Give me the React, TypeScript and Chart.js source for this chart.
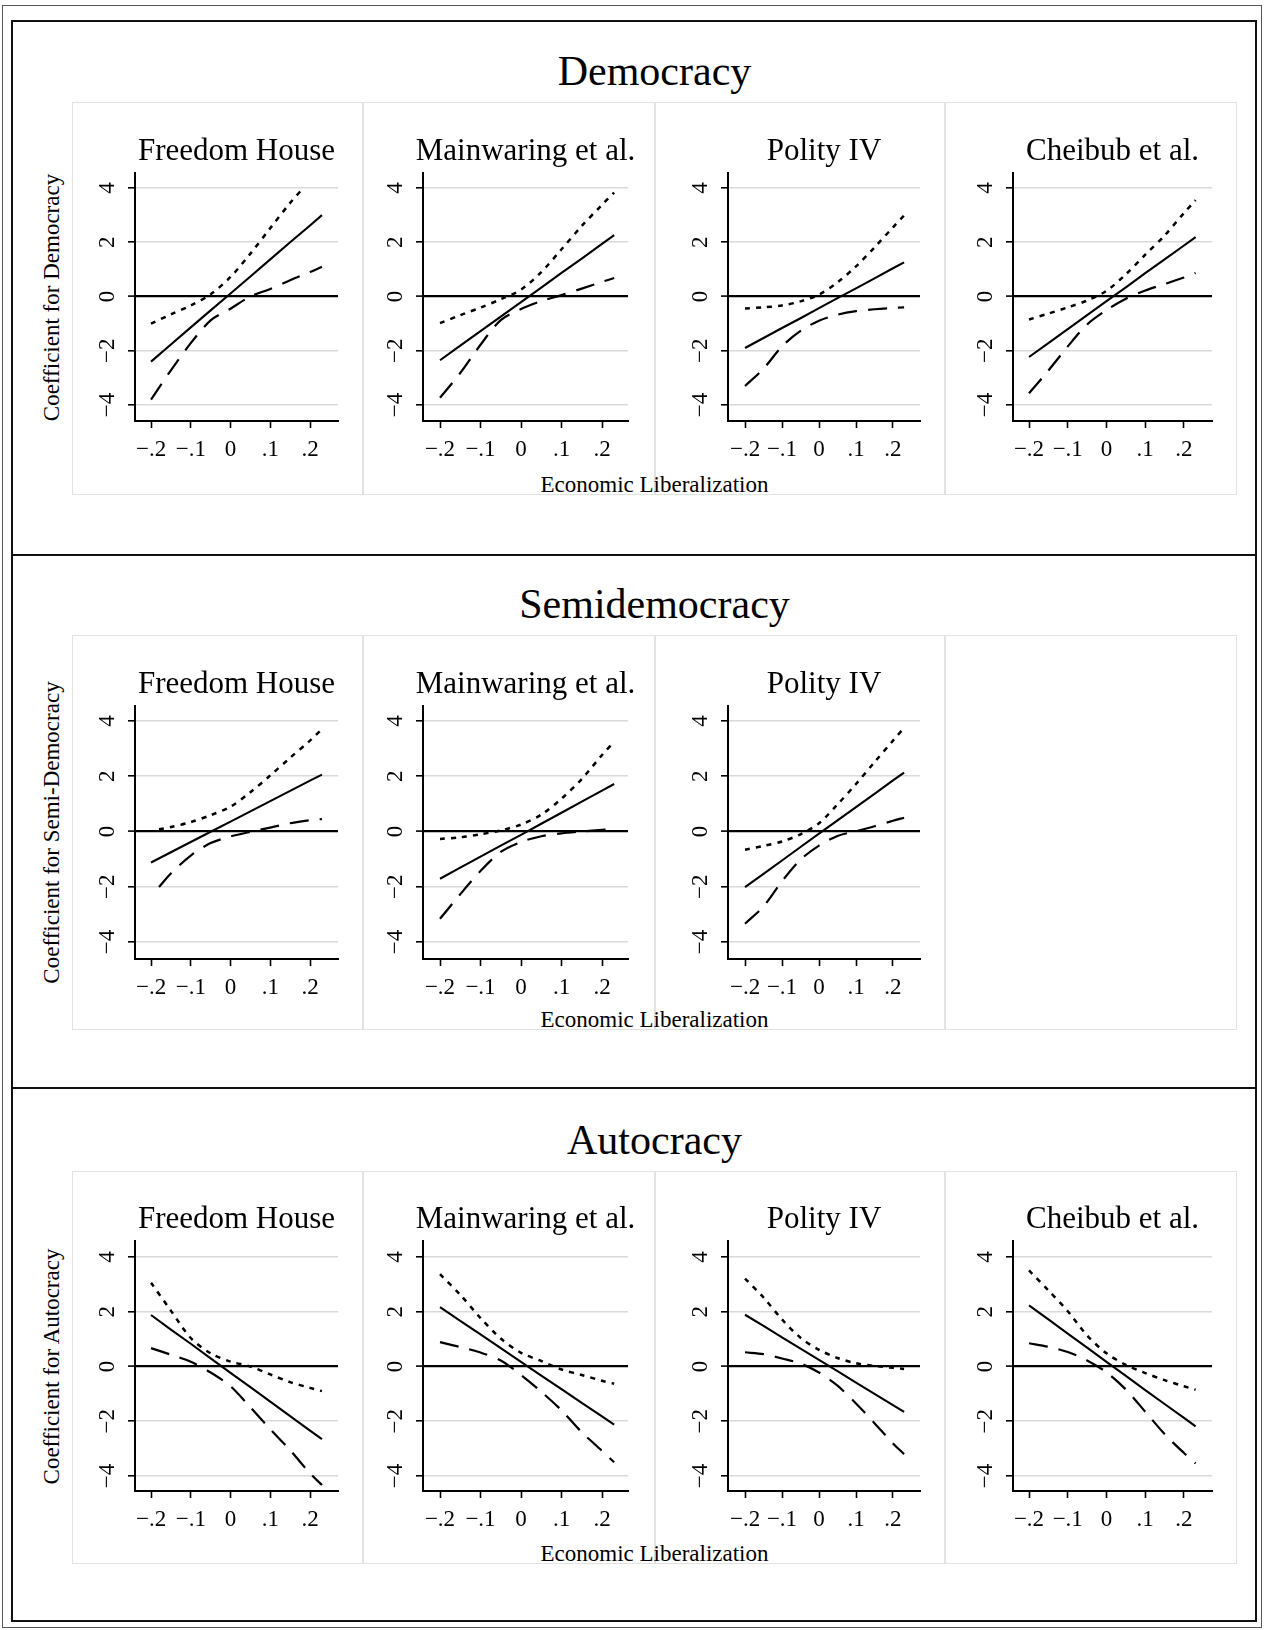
import React, { useEffect, useRef } from 'react';
import { Chart, registerables } from 'chart.js';

Chart.register(...registerables);

// ---------------- data ----------------
const X_GRID = [-0.2, -0.15, -0.1, -0.05, 0, 0.05, 0.1, 0.15, 0.2, 0.23];
const X_TICKS = [-0.2, -0.1, 0, 0.1, 0.2];
const X_TICK_LABELS = ['\u2212.2', '\u2212.1', '0', '.1', '.2'];
const Y_TICKS = [-4, -2, 0, 2, 4];
const Y_TICK_LABELS = ['\u22124', '\u22122', '0', '2', '4'];

const SECTION_TITLES = ['Democracy', 'Semidemocracy', 'Autocracy'];
const Y_TITLES = ['Coefficient for Democracy', 'Coefficient for Semi-Democracy', 'Coefficient for Autocracy'];
const X_TITLE = 'Economic Liberalization';
const MEASURES = ['Freedom House', 'Mainwaring et al.', 'Polity IV', 'Cheibub et al.'];

// Democracy
const DEM_FH_EST = [-2.4, -1.77, -1.14, -0.51, 0.11, 0.74, 1.37, 2.0, 2.62, 3.0];
const DEM_FH_UPPER_X = [-0.2, -0.15, -0.1, -0.05, 0, 0.05, 0.1, 0.15, 0.185];
const DEM_FH_UPPER = [-1.0, -0.66, -0.33, 0.08, 0.72, 1.58, 2.52, 3.45, 4.03];
const DEM_FH_LOWER = [-3.8, -2.72, -1.72, -0.88, -0.45, 0.0, 0.28, 0.6, 0.9, 1.1];

const DEM_MW_EST = [-2.35, -1.81, -1.28, -0.74, -0.21, 0.33, 0.87, 1.4, 1.94, 2.26];
const DEM_MW_UPPER = [-0.98, -0.69, -0.41, -0.1, 0.25, 0.9, 1.74, 2.6, 3.38, 3.83];
const DEM_MW_LOWER = [-3.73, -2.82, -1.78, -0.87, -0.46, -0.17, 0.05, 0.29, 0.54, 0.68];

const DEM_PO_EST = [-1.9, -1.53, -1.16, -0.8, -0.43, -0.06, 0.3, 0.67, 1.04, 1.26];
const DEM_PO_UPPER = [-0.44, -0.4, -0.33, -0.18, 0.07, 0.52, 1.11, 1.81, 2.55, 2.99];
const DEM_PO_LOWER = [-3.3, -2.66, -1.84, -1.27, -0.89, -0.67, -0.54, -0.47, -0.42, -0.4];

const DEM_CH_EST = [-2.23, -1.72, -1.2, -0.69, -0.17, 0.34, 0.86, 1.37, 1.88, 2.19];
const DEM_CH_UPPER = [-0.85, -0.63, -0.4, -0.15, 0.21, 0.82, 1.54, 2.25, 3.08, 3.55];
const DEM_CH_LOWER = [-3.57, -2.73, -1.84, -1.03, -0.5, -0.08, 0.22, 0.46, 0.7, 0.87];

// Semidemocracy
const SEMI_FH_EST = [-1.12, -0.75, -0.38, -0.01, 0.36, 0.73, 1.1, 1.47, 1.84, 2.06];
const SEMI_FH_CI_X = [-0.18, -0.15, -0.1, -0.05, 0, 0.05, 0.1, 0.15, 0.2, 0.23];
const SEMI_FH_UPPER = [0.08, 0.16, 0.34, 0.59, 0.9, 1.42, 2.03, 2.67, 3.29, 3.71];
const SEMI_FH_LOWER = [-2.01, -1.52, -0.87, -0.42, -0.18, -0.01, 0.14, 0.3, 0.41, 0.45];

const SEMI_MW_EST = [-1.71, -1.31, -0.91, -0.51, -0.12, 0.28, 0.68, 1.08, 1.48, 1.72];
const SEMI_MW_UPPER = [-0.27, -0.21, -0.1, 0.04, 0.25, 0.61, 1.19, 1.9, 2.77, 3.25];
const SEMI_MW_LOWER = [-3.16, -2.27, -1.43, -0.74, -0.38, -0.17, -0.07, 0.0, 0.06, 0.1];

const SEMI_PO_EST = [-2.01, -1.53, -1.05, -0.56, -0.08, 0.4, 0.88, 1.36, 1.85, 2.13];
const SEMI_PO_UPPER = [-0.66, -0.52, -0.36, -0.1, 0.3, 0.98, 1.72, 2.51, 3.29, 3.75];
const SEMI_PO_LOWER = [-3.34, -2.71, -1.8, -1.02, -0.51, -0.16, 0.01, 0.19, 0.39, 0.5];

// Autocracy
const AUTO_FH_EST = [1.88, 1.35, 0.83, 0.3, -0.23, -0.75, -1.28, -1.81, -2.34, -2.65];
const AUTO_FH_UPPER = [3.06, 2.04, 1.04, 0.48, 0.18, 0.0, -0.29, -0.57, -0.78, -0.9];
const AUTO_FH_LOWER = [0.67, 0.43, 0.17, -0.22, -0.72, -1.49, -2.29, -3.06, -3.9, -4.33];

const AUTO_MW_EST = [2.17, 1.67, 1.17, 0.67, 0.17, -0.33, -0.83, -1.33, -1.82, -2.12];
const AUTO_MW_UPPER = [3.37, 2.62, 1.77, 1.02, 0.5, 0.2, -0.11, -0.31, -0.52, -0.63];
const AUTO_MW_LOWER = [0.89, 0.71, 0.51, 0.22, -0.31, -0.92, -1.6, -2.4, -3.08, -3.5];

const AUTO_PO_EST = [1.89, 1.48, 1.06, 0.65, 0.24, -0.17, -0.59, -1.0, -1.41, -1.66];
const AUTO_PO_UPPER = [3.21, 2.52, 1.72, 1.05, 0.61, 0.31, 0.12, 0.02, -0.05, -0.09];
const AUTO_PO_LOWER = [0.52, 0.45, 0.29, 0.11, -0.22, -0.7, -1.35, -2.07, -2.81, -3.2];

const AUTO_CH_EST = [2.23, 1.72, 1.2, 0.69, 0.17, -0.34, -0.86, -1.37, -1.88, -2.19];
const AUTO_CH_UPPER = [3.51, 2.78, 2.02, 1.13, 0.48, 0.06, -0.24, -0.5, -0.72, -0.85];
const AUTO_CH_LOWER = [0.85, 0.72, 0.53, 0.22, -0.21, -0.84, -1.65, -2.47, -3.16, -3.54];

type PanelData = {
  name: string;
  est: number[];
  upper: number[];
  upperX: number[];
  lower: number[];
  lowerX: number[];
};

const SECTIONS: { panels: (PanelData | null)[] }[] = [
  {
    panels: [
      { name: MEASURES[0], est: DEM_FH_EST, upper: DEM_FH_UPPER, upperX: DEM_FH_UPPER_X, lower: DEM_FH_LOWER, lowerX: X_GRID },
      { name: MEASURES[1], est: DEM_MW_EST, upper: DEM_MW_UPPER, upperX: X_GRID, lower: DEM_MW_LOWER, lowerX: X_GRID },
      { name: MEASURES[2], est: DEM_PO_EST, upper: DEM_PO_UPPER, upperX: X_GRID, lower: DEM_PO_LOWER, lowerX: X_GRID },
      { name: MEASURES[3], est: DEM_CH_EST, upper: DEM_CH_UPPER, upperX: X_GRID, lower: DEM_CH_LOWER, lowerX: X_GRID },
    ],
  },
  {
    panels: [
      { name: MEASURES[0], est: SEMI_FH_EST, upper: SEMI_FH_UPPER, upperX: SEMI_FH_CI_X, lower: SEMI_FH_LOWER, lowerX: SEMI_FH_CI_X },
      { name: MEASURES[1], est: SEMI_MW_EST, upper: SEMI_MW_UPPER, upperX: X_GRID, lower: SEMI_MW_LOWER, lowerX: X_GRID },
      { name: MEASURES[2], est: SEMI_PO_EST, upper: SEMI_PO_UPPER, upperX: X_GRID, lower: SEMI_PO_LOWER, lowerX: X_GRID },
      null,
    ],
  },
  {
    panels: [
      { name: MEASURES[0], est: AUTO_FH_EST, upper: AUTO_FH_UPPER, upperX: X_GRID, lower: AUTO_FH_LOWER, lowerX: X_GRID },
      { name: MEASURES[1], est: AUTO_MW_EST, upper: AUTO_MW_UPPER, upperX: X_GRID, lower: AUTO_MW_LOWER, lowerX: X_GRID },
      { name: MEASURES[2], est: AUTO_PO_EST, upper: AUTO_PO_UPPER, upperX: X_GRID, lower: AUTO_PO_LOWER, lowerX: X_GRID },
      { name: MEASURES[3], est: AUTO_CH_EST, upper: AUTO_CH_UPPER, upperX: X_GRID, lower: AUTO_CH_LOWER, lowerX: X_GRID },
    ],
  },
];

// ---------------- layout ----------------
const FONT = '"Liberation Serif", "Times New Roman", Times, serif';
const FRAME_LEFT = 72;
const FRAME_RIGHT = 1237;
const COL_LEFTS = [72, 363, 655, 945];
const COL_RIGHTS = [363, 655, 945, 1237];
const PLOT_LEFTS = [135, 423, 728, 1013];
const PLOT_RIGHTS = [338, 628, 920, 1212];
const X_MINS = [-0.2403, -0.242, -0.246, -0.2413];
const X_MAXS = [0.2704, 0.2642, 0.273, 0.2723];

const GEOM = [
  { frameTop: 102, frameBottom: 495, axisTop: 173, axisBottom: 421, yMin: -4.59, yMax: 4.553, titleBaseline: 85, subBaseline: 160 },
  { frameTop: 635, frameBottom: 1030, axisTop: 706, axisBottom: 959, yMin: -4.615, yMax: 4.543, titleBaseline: 618, subBaseline: 693 },
  { frameTop: 1171, frameBottom: 1564, axisTop: 1241, axisBottom: 1491, yMin: -4.548, yMax: 4.584, titleBaseline: 1154, subBaseline: 1228 },
];

const panelTitlePlugin = {
  id: 'panelTitle',
  afterDraw(chart: any, _args: any, opts: any) {
    const { ctx, chartArea } = chart;
    ctx.save();
    ctx.font = `31px ${FONT}`;
    ctx.fillStyle = '#000';
    ctx.textAlign = 'center';
    ctx.textBaseline = 'alphabetic';
    ctx.fillText(opts.text, (chartArea.left + chartArea.right) / 2, opts.baseline);
    ctx.restore();
  },
};

function labelFor(ticks: number[], labels: string[], v: number) {
  const i = ticks.findIndex((t) => Math.abs(t - v) < 1e-9);
  return i >= 0 ? labels[i] : '';
}

function Panel({ sec, col, panel }: { sec: number; col: number; panel: PanelData }) {
  const ref = useRef<HTMLCanvasElement | null>(null);
  const g = GEOM[sec];
  const w = COL_RIGHTS[col] - COL_LEFTS[col];
  const h = g.frameBottom - g.frameTop;

  useEffect(() => {
    if (!ref.current) return;
    const tickFont = { family: FONT, size: 23, weight: 'normal' as const };
    const chart = new Chart(ref.current, {
      type: 'line',
      data: {
        datasets: [
          {
            label: 'Upper bound',
            data: panel.upperX.map((x, i) => ({ x, y: panel.upper[i] })),
            borderColor: '#000',
            borderWidth: 2.5,
            borderDash: [5, 6],
            pointRadius: 0,
            tension: 0.3,
            fill: false,
          },
          {
            label: 'Marginal effect',
            data: X_GRID.map((x, i) => ({ x, y: panel.est[i] })),
            borderColor: '#000',
            borderWidth: 2.1,
            pointRadius: 0,
            tension: 0,
            fill: false,
          },
          {
            label: 'Lower bound',
            data: panel.lowerX.map((x, i) => ({ x, y: panel.lower[i] })),
            borderColor: '#000',
            borderWidth: 2.2,
            borderDash: [19, 11],
            pointRadius: 0,
            tension: 0.3,
            fill: false,
          },
        ],
      },
      options: {
        responsive: false,
        animation: false,
        events: [],
        layout: {
          padding: { top: g.axisTop - g.frameTop, right: COL_RIGHTS[col] - PLOT_RIGHTS[col], left: 0, bottom: 0 },
        },
        plugins: {
          legend: { display: false },
          tooltip: { enabled: false },
          title: { display: false },
          panelTitle: { text: panel.name, baseline: g.subBaseline - g.frameTop },
        } as any,
        scales: {
          x: {
            type: 'linear',
            min: X_MINS[col],
            max: X_MAXS[col],
            afterBuildTicks: (axis: any) => {
              axis.ticks = X_TICKS.map((v) => ({ value: v }));
            },
            afterFit: (axis: any) => {
              axis.height = g.frameBottom - g.axisBottom;
            },
            ticks: {
              autoSkip: false,
              minRotation: 0,
              maxRotation: 0,
              padding: 8,
              color: '#000',
              font: tickFont,
              callback: (v: any) => labelFor(X_TICKS, X_TICK_LABELS, Number(v)),
            },
            grid: {
              drawOnChartArea: false,
              drawTicks: true,
              tickLength: 7,
              tickColor: '#000',
              tickWidth: 1.6,
            },
            border: { display: true, color: '#000', width: 2 },
          },
          y: {
            type: 'linear',
            min: g.yMin,
            max: g.yMax,
            afterBuildTicks: (axis: any) => {
              axis.ticks = Y_TICKS.map((v) => ({ value: v }));
            },
            afterFit: (axis: any) => {
              axis.width = PLOT_LEFTS[col] - COL_LEFTS[col];
            },
            ticks: {
              autoSkip: false,
              minRotation: 90,
              maxRotation: 90,
              crossAlign: 'center',
              padding: 8,
              color: '#000',
              font: tickFont,
              callback: (v: any) => labelFor(Y_TICKS, Y_TICK_LABELS, Number(v)),
            },
            grid: {
              color: (c: any) => (c.tick && c.tick.value === 0 ? '#000' : '#d9d9d9'),
              lineWidth: (c: any) => (c.tick && c.tick.value === 0 ? 2.2 : 1.6),
              drawTicks: true,
              tickLength: 7,
              tickColor: '#000',
              tickWidth: 1.6,
            },
            border: { display: true, color: '#000', width: 2 },
          },
        },
      },
      plugins: [panelTitlePlugin],
    } as any);
    return () => chart.destroy();
  }, []);

  return (
    <canvas
      ref={ref}
      width={w}
      height={h}
      style={{ position: 'absolute', left: COL_LEFTS[col], top: g.frameTop, width: w, height: h }}
    />
  );
}

export default function App() {
  const abs = (s: React.CSSProperties): React.CSSProperties => ({ position: 'absolute', boxSizing: 'border-box', ...s });
  return (
    <div style={abs({ left: 0, top: 0, width: 1264, height: 1630, background: '#fff', overflow: 'hidden', fontFamily: FONT, color: '#000' })}>
      {/* outer borders */}
      <div style={abs({ left: 2, top: 5, width: 1260, height: 1623, border: '1px solid #555' })} />
      <div style={abs({ left: 11, top: 20, width: 1246, height: 1602, border: '2.5px solid #111' })} />
      <div style={abs({ left: 11, top: 553.5, width: 1246, height: 2.5, background: '#111' })} />
      <div style={abs({ left: 11, top: 1086.5, width: 1246, height: 2.5, background: '#111' })} />

      {SECTIONS.map((s, si) => {
        const g = GEOM[si];
        const plotMid = (g.axisTop + g.axisBottom) / 2;
        return (
          <React.Fragment key={si}>
            <div style={abs({ left: FRAME_LEFT, top: g.frameTop, width: FRAME_RIGHT - FRAME_LEFT, height: g.frameBottom - g.frameTop, border: '1.5px solid #e2e2e2' })} />
            {[1, 2, 3].map((c) => (
              <div key={c} style={abs({ left: COL_LEFTS[c] - 0.75, top: g.frameTop, width: 1.5, height: g.frameBottom - g.frameTop, background: '#e2e2e2' })} />
            ))}
            <div style={abs({ left: 0, width: 1264 + 45, top: g.titleBaseline - 35.2, height: 42, lineHeight: '42px', fontSize: 42, textAlign: 'center', whiteSpace: 'nowrap' })}>
              {SECTION_TITLES[si]}
            </div>
            <div
              style={abs({
                left: 51 - 200,
                top: plotMid - 11.5,
                width: 400,
                height: 23,
                lineHeight: '23px',
                fontSize: 23,
                textAlign: 'center',
                whiteSpace: 'nowrap',
                transform: 'rotate(-90deg)',
              })}
            >
              {Y_TITLES[si]}
            </div>
            <div style={abs({ left: 654.5 - 200, width: 400, top: g.frameBottom - 3 - 19.3, height: 23, lineHeight: '23px', fontSize: 23, textAlign: 'center', whiteSpace: 'nowrap' })}>
              {X_TITLE}
            </div>
            {s.panels.map((p, ci) => (p ? <Panel key={ci} sec={si} col={ci} panel={p} /> : null))}
          </React.Fragment>
        );
      })}
    </div>
  );
}
